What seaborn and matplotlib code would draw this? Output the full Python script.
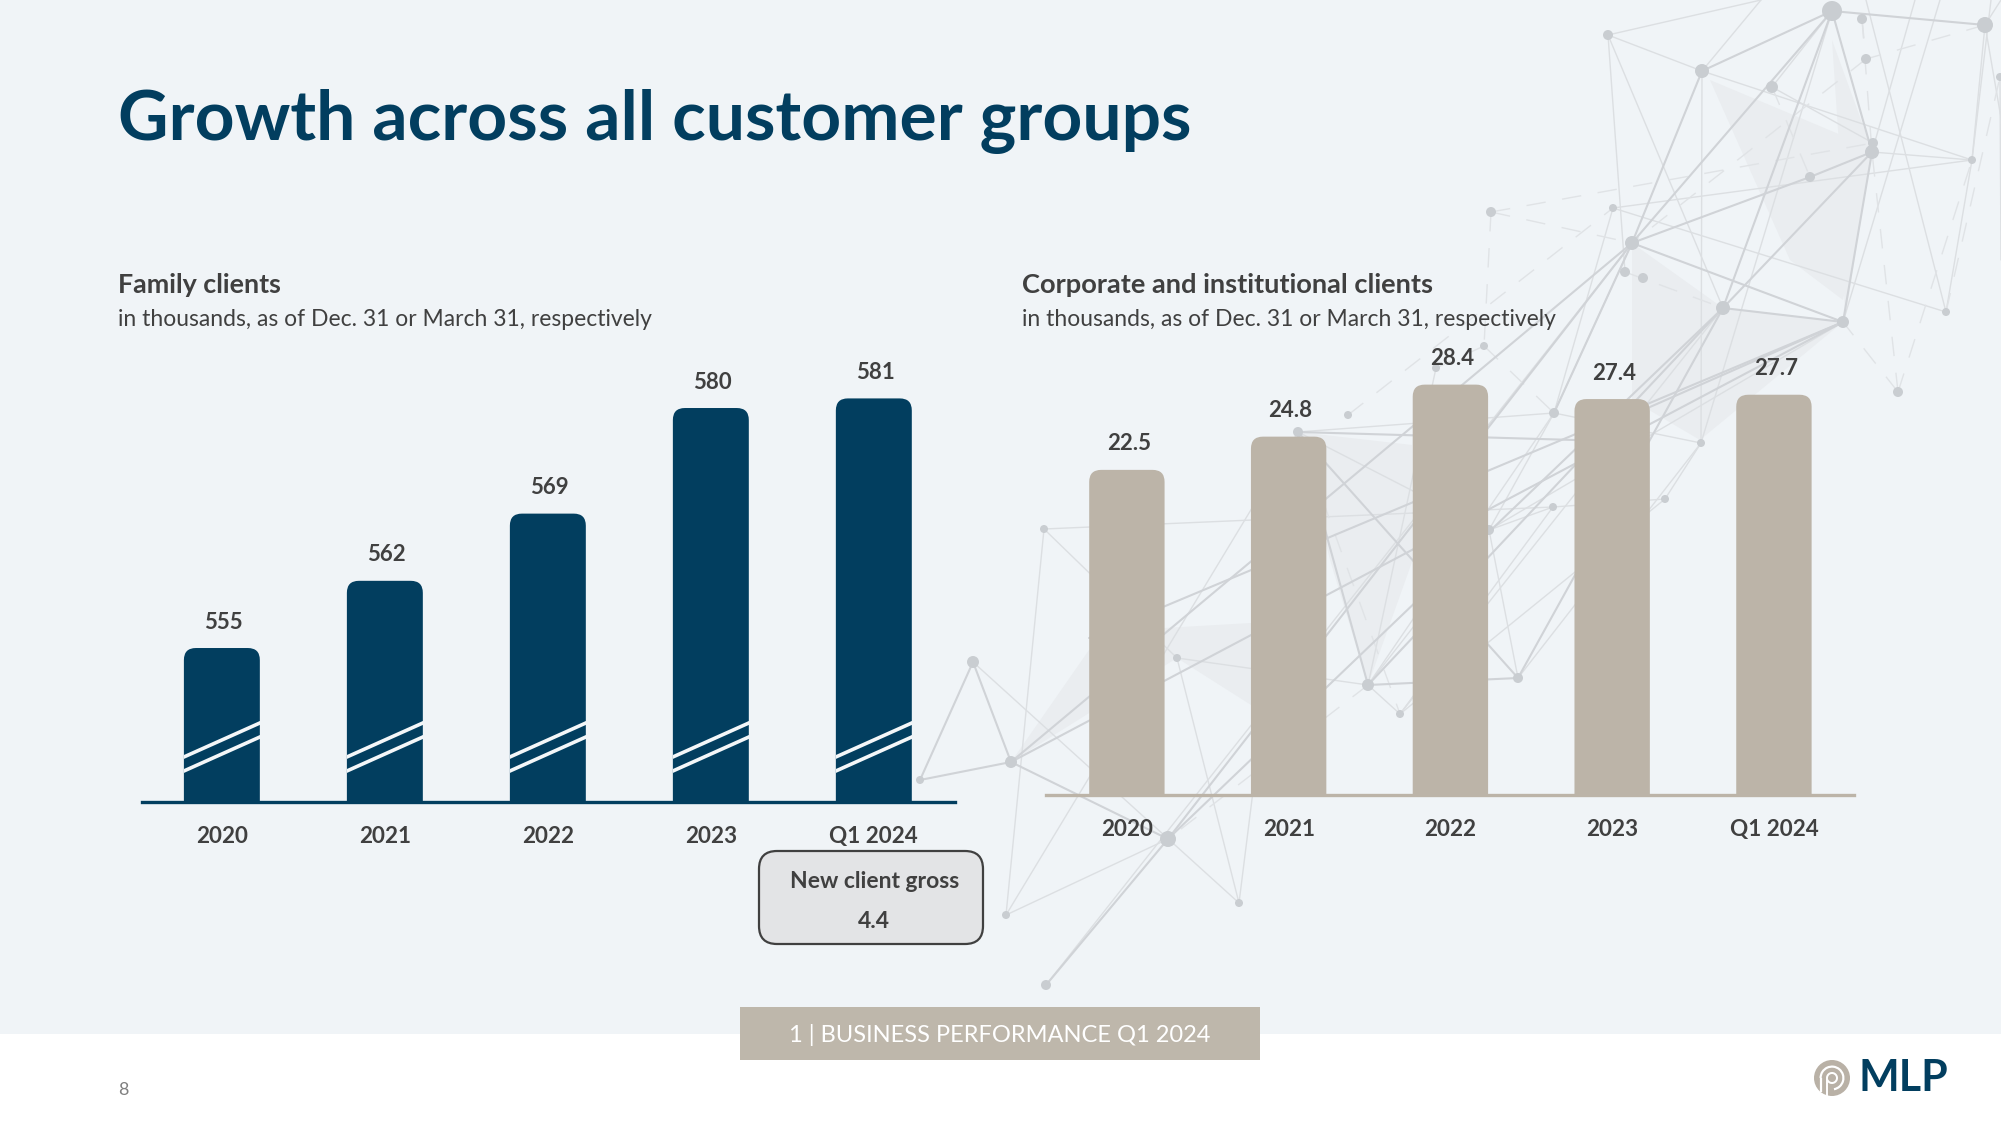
"""
MLP Q1 2024 slide: Growth across all customer groups
Two bar charts on a slide background with a network decoration
"""

import matplotlib
matplotlib.use("Agg")
import matplotlib.pyplot as plt
from matplotlib.patches import FancyBboxPatch, Polygon, Rectangle, Circle, Wedge
from matplotlib.transforms import IdentityTransform
import seaborn as sns

# ── Data ─────────────────────────────────────
CATEGORIES = ["2020", "2021", "2022", "2023", "Q1 2024"]
FAMILY_CLIENTS = [555, 562, 569, 580, 581]
FAMILY_LABELS = ["555", "562", "569", "580", "581"]
CORPORATE_CLIENTS = [22.5, 24.8, 28.4, 27.4, 27.7]
CORPORATE_LABELS = ["22.5", "24.8", "28.4", "27.4", "27.7"]

# ── Config ───────────────────────────────────
W, H = 2001, 1125
NAVY = "#023E5F"
TAN = "#BCB4A8"
TEXT = "#404040"
BG = "#F0F4F7"
FONT = ["Lato", "DejaVu Sans"]

# background decoration, pixel positions on the slide
NODES = {
    "A": (1608, 35, 5), "B": (1702, 71, 7), "C": (1832, 11, 10), "D": (1862, 19, 5),
    "E": (1866, 59, 5), "F": (1985, 25, 8), "G": (2000, 77, 4), "H": (1772, 87, 6),
    "I": (1872, 152, 7), "I2": (1873, 143, 5), "J": (1972, 160, 4), "K": (1810, 177, 5),
    "L": (1613, 208, 4), "M": (1632, 243, 7), "N": (1491, 212, 5), "O": (1625, 272, 5),
    "P": (1643, 278, 5), "Q": (1723, 308, 7), "R": (1843, 322, 6), "S": (1946, 312, 4),
    "T": (1898, 392, 5), "U": (1484, 346, 4), "V": (1436, 368, 4), "W": (1554, 413, 5),
    "X": (1701, 443, 4), "Y": (1665, 499, 4), "a": (973, 662, 6), "b": (1011, 762, 6),
    "c": (920, 780, 4), "d": (1044, 529, 4), "e": (1168, 839, 8), "f": (1006, 915, 4),
    "g": (1046, 985, 5), "h": (1239, 903, 4), "i": (1177, 658, 4), "j": (1368, 685, 6),
    "k": (1400, 714, 4), "l": (1518, 678, 5), "m": (1553, 507, 4), "o": (1489, 530, 5),
    "p": (1298, 432, 5), "q": (1348, 415, 4),
}
OFF_CANVAS = {
    "t1": (1761, 0), "t2": (1915, 0), "t3": (1991, 0), "t4": (1940, 0), "t5": (2001, 0),
    "t6": (1866, 0), "r1": (2001, 118), "r2": (2001, 260), "y1": (1575, 440), "y2": (1089, 638),
}
THICK_EDGES = [
    ("B", "C"), ("C", "F"), ("C", "I"), ("C", "M"), ("C", "Q"), ("B", "M"), ("I", "K"), ("K", "M"),
    ("M", "R"), ("Q", "R"), ("Q", "I"), ("I", "R"), ("b", "R"), ("b", "e"), ("e", "Q"), ("a", "b"),
    ("c", "b"), ("c", "a"), ("e", "M"), ("e", "g"), ("b", "M"), ("j", "Q"), ("j", "l"), ("p", "j"),
    ("p", "y1"), ("y1", "R"), ("y2", "R"), ("p", "l"), ("l", "Q"), ("W", "M"),
]
THIN_EDGES = [
    ("A", "t1"), ("A", "B"), ("A", "O"), ("A", "Q"), ("B", "t1"), ("B", "J"), ("B", "X"), ("C", "H"),
    ("L", "J"), ("L", "S"), ("L", "W"), ("I", "J"), ("J", "t3"), ("J", "S"), ("J", "F"), ("t6", "S"),
    ("t2", "I"), ("C", "X"), ("M", "W"), ("H", "I2"), ("t4", "R"), ("F", "t5"), ("F", "r1"), ("d", "m"),
    ("d", "i"), ("d", "f"), ("i", "h"), ("f", "e"), ("f", "p"), ("h", "p"), ("g", "M"), ("p", "W"),
    ("p", "o"), ("j", "k"), ("k", "m"), ("a", "h"), ("o", "j"), ("X", "Y"), ("o", "l"), ("i", "j"),
    ("k", "Q"), ("o", "R"), ("V", "j"), ("W", "X"), ("j", "W"), ("G", "r2"), ("m", "Y"), ("o", "m"),
    ("o", "W"), ("Y", "k"), ("X", "l"),
]
DASHED_EDGES = [
    ("N", "M"), ("N", "I2"), ("N", "U"), ("U", "V"), ("q", "L"), ("T", "R"), ("T", "I"), ("T", "J"),
    ("D", "E"), ("E", "M"), ("H", "K"), ("D", "I"), ("S", "G"), ("F", "E"), ("j", "e"), ("p", "k"),
    ("U", "W"), ("O", "Q"),
]
SHADED = [
    [(1710, 80), (1872, 148), (1843, 300), (1790, 260)],
    [(1832, 40), (1872, 150), (1845, 320), (1840, 160)],
    [(1632, 243), (1723, 308), (1843, 322), (1700, 440), (1632, 400)],
    [(1298, 432), (1412, 445), (1412, 562), (1368, 685), (1330, 560)],
    [(1011, 762), (1089, 650), (1164, 628), (1251, 623), (1251, 705), (1177, 658)],
]

# ─────────────────────────────────────────────
# Helpers
# ─────────────────────────────────────────────

def px_axes(fig, left, right, top, bottom, **kw):
    return fig.add_axes([left / W, 1 - bottom / H, (right - left) / W, (bottom - top) / H], **kw)


def round_bar_tops(ax, color, radius=12):
    # seaborn draws square bars, swap each for a shape with the same extent
    for bar in ax.containers[0]:
        (x0, y0), (x1, y1) = ax.transData.transform(bar.get_bbox().get_points())
        shape = FancyBboxPatch(
            (x0 + radius, y0 - 20), x1 - x0 - 2 * radius, y1 - y0 + 20 - radius,
            boxstyle=f"round,pad={radius},rounding_size={radius}",
            transform=IdentityTransform(), facecolor=color, edgecolor="none", zorder=2,
        )
        ax.add_patch(shape)
        bar.set_visible(False)


def bar_chart(ax, values, labels, color, xlim, ylim):
    sns.barplot(x=CATEGORIES, y=values, color=color, width=0.466, saturation=1, ax=ax)
    ax.set_xlim(*xlim)
    ax.set_ylim(*ylim)
    ax.patch.set_alpha(0)
    sns.despine(ax=ax, left=True)
    ax.spines["bottom"].set_color(color)
    ax.spines["bottom"].set_linewidth(2.4)
    ax.set_yticks([])
    ax.set_ylabel("")
    ax.tick_params(axis="x", length=0, pad=17, colors=TEXT)
    for t in ax.get_xticklabels():
        t.set_fontsize(16.2)
        t.set_fontweight("bold")
    for i, (v, lab) in enumerate(zip(values, labels)):
        ax.annotate(lab, (i, v), xytext=(2, 26), textcoords="offset pixels",
                    ha="center", va="center", fontsize=16, fontweight="bold", color=TEXT)
    round_bar_tops(ax, color)


def draw_network(ax):
    for poly in SHADED:
        ax.add_patch(Polygon(poly, closed=True, facecolor="#EAEDF0", edgecolor="none", zorder=1))
    pos = {k: v[:2] for k, v in NODES.items()}
    pos.update(OFF_CANVAS)
    for a, b in THIN_EDGES:
        ax.plot(*zip(pos[a], pos[b]), color="#DCDFE2", lw=1.0, zorder=2)
    for a, b in DASHED_EDGES:
        ax.plot(*zip(pos[a], pos[b]), color="#E0E3E6", lw=1.0, ls=(0, (14, 12)), zorder=2)
    for a, b in THICK_EDGES:
        ax.plot(*zip(pos[a], pos[b]), color="#D0D3D7", lw=1.5, zorder=2)
    for x, y, r in NODES.values():
        ax.add_patch(Circle((x, y), r, facecolor="#C9CDD1", edgecolor="none", zorder=3))


def draw_logo(ax, cx, cy):
    ax.add_patch(Circle((cx, cy), 18, facecolor="#B9B1A6", edgecolor="none"))
    ax.add_patch(Wedge((cx, cy), 12.5, 180, 440, width=2.2, facecolor="white", edgecolor="none"))
    ax.plot([cx - 11.4, cx - 11.4], [cy, cy + 14], color="white", lw=1.6, solid_capstyle="butt")
    ax.add_patch(Wedge((cx, cy), 6, 180, 520, width=2, facecolor="white", edgecolor="none"))
    ax.plot([cx - 5, cx - 5], [cy, cy + 18], color="white", lw=1.4, solid_capstyle="butt")


# ─────────────────────────────────────────────
# Figure
# ─────────────────────────────────────────────

sns.set_theme(style="white")
plt.rcParams["font.family"] = FONT

fig = plt.figure(figsize=(W / 100, H / 100), dpi=100, facecolor="white")

bg = fig.add_axes([0, 0, 1, 1], zorder=0)
bg.set_xlim(0, W)
bg.set_ylim(H, 0)
bg.axis("off")
bg.add_patch(Rectangle((0, 0), W, 1034, facecolor=BG, edgecolor="none", zorder=0))
draw_network(bg)

# Family clients: the value axis does not start at zero
top_px, base_px = 300, 802
family_min = 538.96
family_max = family_min + (base_px - top_px) / 9.6
ax1 = px_axes(fig, 142, 955, top_px, base_px, zorder=1)
bar_chart(ax1, FAMILY_CLIENTS, FAMILY_LABELS, NAVY, (-0.49, 4.498), (family_min, family_max))

# axis break stripes across the family bars
for bar in ax1.containers[0]:
    x0, x1 = bar.get_x(), bar.get_x() + bar.get_width()
    for y0, y1 in [(543.65, 547.19), (542.19, 545.73)]:
        line, = ax1.plot([x0, x1], [y0, y1], color="#F4F7F9", lw=2.6, solid_capstyle="projecting",
                         zorder=3)
        line.set_clip_path(bar)

# Corporate clients
top_px, base_px = 300, 795
corp_max = (base_px - top_px) / 14.45
ax2 = px_axes(fig, 1046, 1854, top_px, base_px, zorder=1)
bar_chart(ax2, CORPORATE_CLIENTS, CORPORATE_LABELS, TAN, (-0.5, 4.495), (0, corp_max))

# overlay for slide furniture
fg = fig.add_axes([0, 0, 1, 1], zorder=3)
fg.set_xlim(0, W)
fg.set_ylim(H, 0)
fg.axis("off")
fg.patch.set_alpha(0)

fg.text(118, 122, "Growth across all customer groups", fontsize=50, fontweight="bold",
        color=NAVY, ha="left", va="center")
fg.text(118, 285, "Family clients", fontsize=19.4, fontweight="bold", color=TEXT, va="center")
fg.text(118, 319, "in thousands, as of Dec. 31 or March 31, respectively", fontsize=16.5,
        color=TEXT, va="center")
fg.text(1022, 285, "Corporate and institutional clients", fontsize=19.6, fontweight="bold",
        color=TEXT, va="center")
fg.text(1022, 319, "in thousands, as of Dec. 31 or March 31, respectively", fontsize=16.5,
        color=TEXT, va="center")

# callout below Q1 2024
fg.add_patch(FancyBboxPatch((759 + 18, 851 + 18), 224 - 36, 93 - 36,
                            boxstyle="round,pad=18,rounding_size=18",
                            facecolor="#E3E4E6", edgecolor=TEXT, lw=1.6))
fg.text(875, 882, "New client gross", fontsize=16.5, fontweight="bold", color=TEXT,
        ha="center", va="center")
fg.text(874, 921, "4.4", fontsize=16.5, fontweight="bold", color=TEXT, ha="center", va="center")

# footer
fg.add_patch(Rectangle((740, 1007), 520, 53, facecolor="#BEB7AB", edgecolor="none"))
fg.text(1000, 1035, "1 | BUSINESS PERFORMANCE Q1 2024", fontsize=17, color="white",
        ha="center", va="center")
fg.text(118, 1090, "8", fontsize=13, color="#808080", va="center")

# logo
draw_logo(fg, 1832, 1078)
fg.text(1903, 1078, "MLP", fontsize=31, fontweight="bold", color=NAVY, ha="center", va="center")

fig.savefig("out.png", dpi=100, facecolor="white")
